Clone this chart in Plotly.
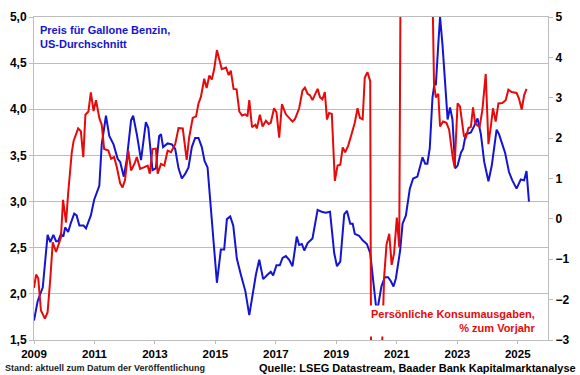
import plotly.graph_objects as go

# ---------------- data ----------------
gas_years = [2009.00, 2009.12, 2009.29, 2009.45, 2009.54, 2009.64, 2009.73, 2009.80, 2009.89, 2009.97,
             2010.03, 2010.13, 2010.22, 2010.33, 2010.41, 2010.50, 2010.64, 2010.72, 2010.88, 2010.99,
             2011.16, 2011.24, 2011.38, 2011.49, 2011.63, 2011.77, 2011.85, 2011.97, 2012.07, 2012.21,
             2012.28, 2012.40, 2012.54, 2012.70, 2012.78, 2012.92, 2013.03, 2013.14, 2013.20, 2013.27,
             2013.42, 2013.56, 2013.67, 2013.78, 2013.89, 2014.00, 2014.11, 2014.22, 2014.33, 2014.44,
             2014.55, 2014.64, 2014.74, 2014.82, 2014.91, 2014.99, 2015.05, 2015.18, 2015.29, 2015.38,
             2015.49, 2015.59, 2015.71, 2015.84, 2015.99, 2016.12, 2016.23, 2016.34, 2016.45, 2016.58,
             2016.73, 2016.83, 2016.91, 2017.02, 2017.13, 2017.22, 2017.33, 2017.44, 2017.55, 2017.69,
             2017.77, 2017.86, 2017.94, 2018.05, 2018.21, 2018.38, 2018.51, 2018.65, 2018.79, 2018.93,
             2019.02, 2019.13, 2019.26, 2019.35, 2019.46, 2019.54, 2019.61, 2019.75, 2019.87, 2020.01,
             2020.12, 2020.23, 2020.31, 2020.38, 2020.49, 2020.60, 2020.71, 2020.80, 2020.89, 2020.97,
             2021.11, 2021.19, 2021.30, 2021.43, 2021.54, 2021.68, 2021.85, 2021.94, 2022.01, 2022.09,
             2022.18, 2022.25, 2022.29, 2022.37, 2022.43, 2022.51, 2022.60, 2022.68, 2022.76, 2022.84,
             2022.93, 2023.01, 2023.12, 2023.19, 2023.28, 2023.45, 2023.56, 2023.67, 2023.78, 2023.89,
             2024.03, 2024.14, 2024.30, 2024.38, 2024.49, 2024.58, 2024.71, 2024.82, 2024.96, 2025.10,
             2025.21, 2025.29, 2025.37]
gas_price = [1.71, 1.92, 2.07, 2.64, 2.56, 2.64, 2.57, 2.57, 2.65, 2.62,
             2.72, 2.67, 2.77, 2.87, 2.85, 2.74, 2.74, 2.71, 2.85, 3.02,
             3.17, 3.62, 3.93, 3.71, 3.62, 3.46, 3.43, 3.27, 3.46, 3.88,
             3.93, 3.73, 3.45, 3.86, 3.80, 3.34, 3.36, 3.71, 3.73, 3.59,
             3.63, 3.62, 3.57, 3.36, 3.25, 3.30, 3.37, 3.59, 3.69, 3.69,
             3.59, 3.44, 3.37, 3.02, 2.70, 2.31, 2.12, 2.48, 2.48, 2.81,
             2.84, 2.74, 2.38, 2.21, 2.03, 1.77, 2.00, 2.21, 2.37, 2.16,
             2.21, 2.24, 2.20, 2.31, 2.31, 2.39, 2.41, 2.37, 2.30, 2.62,
             2.53, 2.54, 2.47, 2.55, 2.60, 2.91, 2.89, 2.88, 2.89, 2.44,
             2.30, 2.35, 2.86, 2.90, 2.76, 2.76, 2.65, 2.63, 2.58, 2.54,
             2.44, 2.12, 1.87, 1.87, 2.08, 2.18, 2.18, 2.14, 2.08, 2.17,
             2.47, 2.76, 2.85, 3.14, 3.25, 3.27, 3.48, 3.41, 3.41, 3.58,
             4.13, 4.29, 4.26, 4.70, 5.00, 4.70, 4.24, 3.89, 4.02, 3.89,
             3.36, 3.39, 3.53, 3.57, 3.73, 3.75, 3.82, 3.90, 3.73, 3.43,
             3.22, 3.39, 3.78, 3.73, 3.62, 3.53, 3.32, 3.23, 3.14, 3.24,
             3.23, 3.33, 3.00]

pce_years = [2009.00, 2009.07, 2009.14, 2009.23, 2009.36, 2009.45, 2009.54, 2009.62, 2009.73, 2009.84,
             2009.89, 2009.96, 2010.06, 2010.13, 2010.25, 2010.31, 2010.46, 2010.55, 2010.63, 2010.70,
             2010.80, 2010.88, 2010.97, 2011.05, 2011.16, 2011.24, 2011.32, 2011.46, 2011.55, 2011.65,
             2011.74, 2011.85, 2011.93, 2012.01, 2012.12, 2012.21, 2012.32, 2012.40, 2012.51, 2012.65,
             2012.76, 2012.83, 2012.92, 2013.03, 2013.09, 2013.20, 2013.31, 2013.42, 2013.53, 2013.67,
             2013.78, 2013.92, 2014.05, 2014.13, 2014.25, 2014.36, 2014.44, 2014.52, 2014.63, 2014.71,
             2014.80, 2014.88, 2014.96, 2015.05, 2015.13, 2015.21, 2015.35, 2015.44, 2015.51, 2015.60,
             2015.70, 2015.79, 2015.88, 2015.99, 2016.06, 2016.12, 2016.21, 2016.32, 2016.37, 2016.47,
             2016.56, 2016.67, 2016.76, 2016.83, 2016.94, 2017.02, 2017.11, 2017.20, 2017.33, 2017.44,
             2017.55, 2017.63, 2017.77, 2017.88, 2017.96, 2018.05, 2018.13, 2018.21, 2018.29, 2018.38,
             2018.46, 2018.54, 2018.62, 2018.69, 2018.76, 2018.85, 2018.95, 2019.04, 2019.13, 2019.21,
             2019.29, 2019.39, 2019.50, 2019.61, 2019.70, 2019.78, 2019.87, 2019.94, 2020.03, 2020.12,
             2020.16, 2020.25, 2020.34, 2020.42, 2020.50, 2020.58, 2020.66, 2020.75, 2020.83, 2020.91,
             2021.00, 2021.08, 2021.16, 2021.25, 2021.33, 2021.42, 2021.50, 2021.58, 2021.66, 2021.75,
             2021.83, 2021.91, 2022.00, 2022.08, 2022.15, 2022.23, 2022.29, 2022.37, 2022.43, 2022.53,
             2022.64, 2022.73, 2022.84, 2022.91, 2023.01, 2023.09, 2023.17, 2023.22, 2023.28, 2023.37,
             2023.45, 2023.52, 2023.59, 2023.67, 2023.74, 2023.83, 2023.94, 2024.03, 2024.11, 2024.18,
             2024.27, 2024.36, 2024.49, 2024.60, 2024.69, 2024.80, 2024.96, 2025.04, 2025.13, 2025.21,
             2025.29]
pce_yoy = [-1.71, -1.38, -1.47, -2.27, -2.47, -2.31, -1.47, -0.58, -0.82, -0.54,
           -0.46, 0.47, -0.09, 0.64, 1.65, 1.93, 2.24, 2.17, 1.53, 2.58,
           2.66, 3.13, 2.67, 2.94, 2.50, 2.33, 1.73, 1.69, 1.49, 1.53,
           1.28, 0.88, 0.78, 0.96, 1.69, 1.20, 1.36, 1.53, 1.24, 1.28,
           1.32, 1.12, 1.73, 1.74, 1.12, 1.36, 1.32, 1.69, 1.65, 1.85,
           2.25, 2.24, 1.46, 2.01, 2.50, 2.54, 2.86, 3.02, 3.47, 3.24,
           3.55, 3.45, 3.71, 4.18, 3.91, 3.71, 3.75, 3.56, 3.67, 3.22,
           3.21, 2.66, 2.56, 2.59, 2.54, 2.94, 2.27, 2.33, 2.24, 2.58,
           2.29, 2.43, 2.35, 2.38, 2.74, 2.64, 2.01, 2.84, 2.59, 2.50,
           2.41, 2.47, 2.74, 3.18, 3.25, 3.10, 3.06, 2.94, 3.06, 3.22,
           3.01, 2.96, 3.14, 2.46, 2.62, 2.60, 0.94, 1.32, 1.34, 1.77,
           1.65, 1.81, 2.09, 2.38, 2.74, 2.50, 2.47, 3.50, 3.63, 3.41,
           -6.5, -16.0, -11.0, -5.5, -3.6, -1.45, -0.63, -0.37, -1.14, -0.85,
           0.03, -0.70, 11.5, 26.0, 15.0, 11.0, 8.0, 7.0, 6.5, 7.5,
           7.5, 7.0, 6.5, 6.0, 7.0, 3.34, 3.01, 3.10, 2.29, 2.41,
           2.38, 2.21, 1.57, 1.28, 2.86, 2.78, 2.33, 2.05, 2.01, 2.25,
           2.28, 2.76, 2.38, 2.31, 2.29, 2.70, 3.59, 1.85, 2.29, 2.74,
           2.41, 2.86, 2.87, 2.94, 3.20, 3.14, 3.12, 2.98, 2.71, 3.06,
           3.22]

x_ticks = [2009, 2011, 2013, 2015, 2017, 2019, 2021, 2023, 2025]
x_tick_labels = ["2009", "2011", "2013", "2015", "2017", "2019", "2021", "2023", "2025"]

BLUE = "#1414D2"
RED = "#E60A0A"
FONT = "Liberation Sans, Arial, sans-serif"
GRID = "#BDBDBD"

fig = go.Figure()
fig.add_trace(go.Scatter(x=gas_years, y=gas_price, mode="lines",
                         line=dict(color=BLUE, width=2), yaxis="y", showlegend=False))
fig.add_trace(go.Scatter(x=pce_years, y=pce_yoy, mode="lines",
                         line=dict(color=RED, width=2), yaxis="y2", showlegend=False))

fig.update_layout(
    width=580, height=375,
    margin=dict(l=33, r=32, t=10, b=35),
    paper_bgcolor="white", plot_bgcolor="white",
    separators=",.",
    font=dict(family=FONT, color="black"),
    xaxis=dict(range=[2009, 2026], tickmode="array", tickvals=x_ticks, ticktext=x_tick_labels,
               showgrid=False, zeroline=False, showline=True, linecolor=GRID, linewidth=1,
               mirror=True, ticks="outside", ticklen=3, tickcolor=GRID,
               tickfont=dict(size=11.5, family=FONT, color="black", weight="bold")),
    yaxis=dict(range=[1.5, 5.0], dtick=0.5, tick0=1.5, tickformat=".1f",
               showgrid=True, gridcolor=GRID, gridwidth=1, zeroline=False,
               showline=True, linecolor=GRID, linewidth=1, ticks="outside", ticklen=4,
               tickcolor=GRID,
               tickfont=dict(size=12, family=FONT, color="black", weight="bold")),
    yaxis2=dict(range=[-3, 5], dtick=1, overlaying="y", side="right",
                showgrid=False, zeroline=False, showline=True, linecolor=GRID, linewidth=1,
                ticks="outside", ticklen=4, tickcolor=GRID,
                tickfont=dict(size=12, family=FONT, color="black", weight="bold")),
)

fig.add_annotation(xref="paper", yref="paper", x=0.008, y=0.985, xanchor="left", yanchor="top",
                   align="left", showarrow=False,
                   text="Preis für Gallone Benzin,<br>US-Durchschnitt",
                   font=dict(size=11, color=BLUE, family=FONT, weight="bold"))
fig.add_annotation(xref="paper", yref="paper", x=0.982, y=0.008, xanchor="right", yanchor="bottom",
                   align="right", showarrow=False, bgcolor="white", borderpad=2,
                   text="Persönliche Konsumausgaben,<br>% zum Vorjahr",
                   font=dict(size=11, color=RED, family=FONT, weight="bold"))
fig.add_annotation(xref="paper", yref="paper", x=-0.061, y=-0.088, xanchor="left", yanchor="middle",
                   showarrow=False,
                   text="Stand: aktuell zum Datum der Veröffentlichung",
                   font=dict(size=9, color="#222222", family=FONT, weight="bold"))
fig.add_annotation(xref="paper", yref="paper", x=1.058, y=-0.088, xanchor="right", yanchor="middle",
                   showarrow=False,
                   text="Quelle: LSEG Datastream, Baader Bank Kapitalmarktanalyse",
                   font=dict(size=11, color="black", family=FONT, weight="bold"))

fig.write_html("out.html", config={"displayModeBar": False},
               post_script="document.body.style.margin='0';document.body.style.overflow='hidden';")
